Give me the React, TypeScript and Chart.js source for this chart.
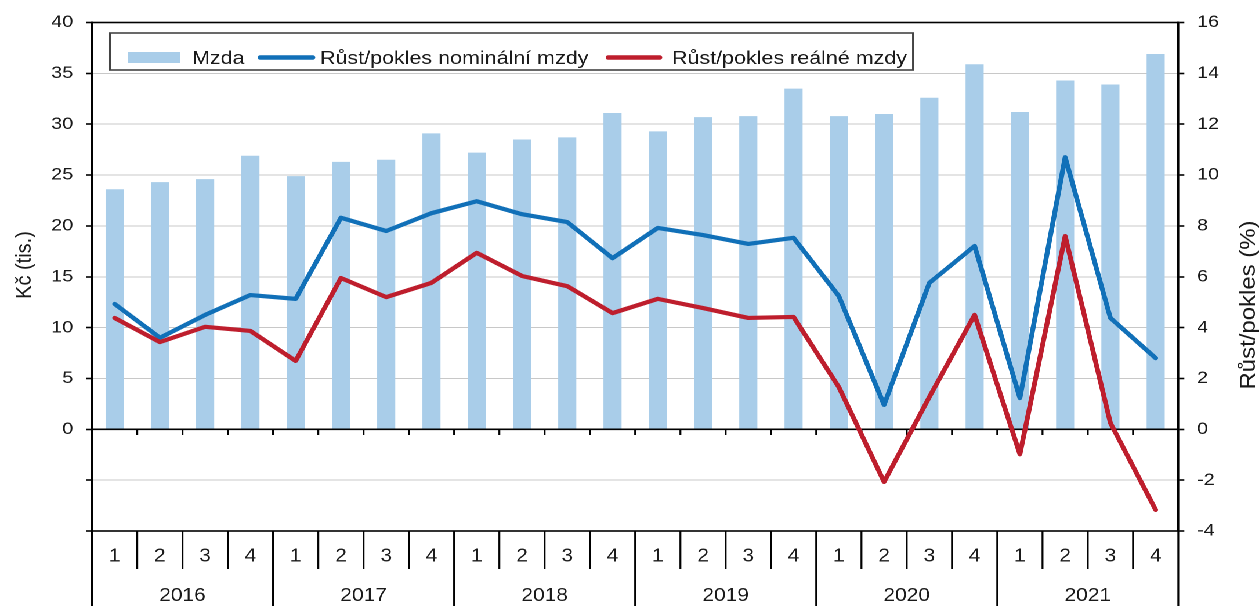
import React, { useEffect, useRef } from 'react';
import { Chart, registerables } from 'chart.js';

Chart.register(...registerables);

// ---------- data ----------
const YEARS = ['2016', '2017', '2018', '2019', '2020', '2021'];
const QUARTERS = ['1', '2', '3', '4'];
const CATEGORIES = YEARS.flatMap((y) => QUARTERS.map((q) => `${q}/${y}`));

const WAGE = [23.6, 24.3, 24.6, 26.9, 24.9, 26.3, 26.5, 29.1, 27.2, 28.5, 28.7, 31.1, 29.3, 30.7, 30.8, 33.5, 30.8, 31.0, 32.6, 35.9, 31.2, 34.3, 33.9, 36.9];
const NOMINAL = [4.93, 3.6, 4.5, 5.28, 5.13, 8.32, 7.8, 8.5, 8.97, 8.46, 8.15, 6.73, 7.92, 7.64, 7.29, 7.53, 5.24, 0.96, 5.76, 7.21, 1.23, 10.7, 4.38, 2.8];
const REAL = [4.38, 3.43, 4.03, 3.87, 2.69, 5.95, 5.2, 5.76, 6.94, 6.03, 5.63, 4.57, 5.13, 4.77, 4.38, 4.42, 1.66, -2.07, 1.27, 4.5, -0.98, 7.6, 0.25, -3.17];

const SERIES_LABELS = ['Mzda', 'Růst/pokles nominální mzdy', 'Růst/pokles reálné mzdy'];
const LEFT_TITLE = 'Kč (tis.)';
const RIGHT_TITLE = 'Růst/pokles (%)';
const LEFT_MIN = -10, LEFT_MAX = 40, LEFT_STEP = 5;
const RIGHT_MIN = -4, RIGHT_MAX = 16, RIGHT_STEP = 2;

// ---------- styling ----------
const W = 1085;
const H = 606;
const S = 1259 / W; // horizontal stretch of the original artwork
const sx = (px: number) => px / S;
const FONT = "'Liberation Sans', Arial, sans-serif";
const TEXT = '#1a1a1a';
const BAR = '#a9cde9';
const BLUE = '#1170b8';
const RED = '#be1e2d';

const decor = {
  id: 'decor',
  afterDatasetDraw(chart: any, args: any) {
    if (args.index !== 0) return;
    const { ctx, chartArea: a, scales } = chart;
    const y0 = scales.y.getPixelForValue(0);
    ctx.save();
    ctx.strokeStyle = '#000';
    ctx.lineWidth = 1.6;
    ctx.beginPath();
    ctx.moveTo(a.left, y0);
    ctx.lineTo(a.right, y0);
    const xs = scales.x;
    for (let i = 1; i < CATEGORIES.length; i++) {
      const bx = (xs.getPixelForValue(i - 1) + xs.getPixelForValue(i)) / 2;
      ctx.moveTo(bx, y0);
      ctx.lineTo(bx, y0 + 5.7);
    }
    ctx.stroke();
    ctx.restore();
  },
  afterDraw(chart: any) {
    const { ctx, chartArea: a, scales } = chart;
    const xs = scales.x;
    ctx.save();
    // frame
    ctx.strokeStyle = '#000';
    ctx.lineWidth = 1.6;
    ctx.strokeRect(a.left, a.top, a.right - a.left, a.bottom - a.top);
    // category table
    ctx.beginPath();
    ctx.moveTo(a.left, a.bottom);
    ctx.lineTo(a.left, H);
    ctx.moveTo(a.right, a.bottom);
    ctx.lineTo(a.right, H);
    const n = CATEGORIES.length;
    for (let i = 1; i < n; i++) {
      const bx = (xs.getPixelForValue(i - 1) + xs.getPixelForValue(i)) / 2;
      const isYear = i % QUARTERS.length === 0;
      ctx.moveTo(bx, a.bottom);
      ctx.lineTo(bx, isYear ? H : 569);
    }
    ctx.stroke();
    ctx.fillStyle = TEXT;
    ctx.font = `18px ${FONT}`;
    ctx.textAlign = 'center';
    ctx.textBaseline = 'alphabetic';
    for (let i = 0; i < n; i++) {
      ctx.fillText(QUARTERS[i % QUARTERS.length], xs.getPixelForValue(i), 561.5);
    }
    YEARS.forEach((y, yi) => {
      const first = yi * QUARTERS.length;
      const last = first + QUARTERS.length - 1;
      const cx = (xs.getPixelForValue(first) + xs.getPixelForValue(last)) / 2;
      ctx.fillText(y, cx, 601);
    });

    // legend
    const ds = chart.data.datasets;
    ctx.fillStyle = '#fff';
    ctx.fillRect(sx(110), 33, sx(913) - sx(110), 37);
    ctx.strokeStyle = '#444';
    ctx.lineWidth = 1.6;
    ctx.strokeRect(sx(110), 33, sx(913) - sx(110), 37);
    ctx.font = `18.5px ${FONT}`;
    ctx.textAlign = 'left';
    ctx.fillStyle = ds[0].backgroundColor;
    ctx.fillRect(sx(128), 52, sx(180) - sx(128), 11);
    ctx.fillStyle = TEXT;
    ctx.fillText(ds[0].label, sx(192), 64);
    const lineItem = (d: any, x1: number, x2: number, tx: number) => {
      ctx.strokeStyle = d.borderColor;
      ctx.lineWidth = 4.5;
      ctx.lineCap = 'round';
      ctx.beginPath();
      ctx.moveTo(sx(x1) + 2, 57.5);
      ctx.lineTo(sx(x2) - 2, 57.5);
      ctx.stroke();
      ctx.fillStyle = TEXT;
      ctx.fillText(d.label, sx(tx), 64);
    };
    lineItem(ds[1], 258, 315, 320);
    lineItem(ds[2], 606, 662, 672);

    // axis titles
    const vTitle = (t: string, cx: number, cy: number, k: number) => {
      ctx.save();
      ctx.translate(cx, cy);
      ctx.rotate(-Math.PI / 2);
      ctx.scale(k, 1);
      ctx.font = `18px ${FONT}`;
      ctx.fillStyle = TEXT;
      ctx.textAlign = 'center';
      ctx.textBaseline = 'middle';
      ctx.fillText(t, 0, 0);
      ctx.restore();
    };
    vTitle(LEFT_TITLE, sx(25), 265, 1.11);
    vTitle(RIGHT_TITLE, sx(1249), 305, 1.33);
    ctx.restore();
  },
};

export default function App() {
  const ref = useRef<HTMLCanvasElement | null>(null);
  useEffect(() => {
    if (!ref.current) return;
    const tickFont = { family: FONT, size: 17 };
    const chart = new Chart(ref.current, {
      type: 'bar',
      data: {
        labels: CATEGORIES,
        datasets: [
          {
            type: 'bar',
            label: SERIES_LABELS[0],
            data: WAGE,
            backgroundColor: BAR,
            borderWidth: 0,
            barPercentage: 0.4,
            categoryPercentage: 1,
            yAxisID: 'y',
            order: 2,
          },
          {
            type: 'line',
            label: SERIES_LABELS[1],
            data: NOMINAL,
            borderColor: BLUE,
            backgroundColor: BLUE,
            borderWidth: 4.2,
            pointRadius: 0,
            tension: 0,
            borderJoinStyle: 'round',
            borderCapStyle: 'round',
            yAxisID: 'y1',
            order: 1,
          },
          {
            type: 'line',
            label: SERIES_LABELS[2],
            data: REAL,
            borderColor: RED,
            backgroundColor: RED,
            borderWidth: 4.2,
            pointRadius: 0,
            tension: 0,
            borderJoinStyle: 'round',
            borderCapStyle: 'round',
            yAxisID: 'y1',
            order: 0,
          },
        ] as any,
      },
      options: {
        animation: false,
        responsive: false,
        devicePixelRatio: 2,
        layout: { padding: { top: 22.5, bottom: 0, left: 0, right: 0 } },
        plugins: {
          legend: { display: false },
          tooltip: { enabled: false },
          title: { display: false },
        },
        scales: {
          x: {
            type: 'category',
            offset: true,
            grid: { display: false, drawTicks: false },
            border: { display: false },
            ticks: { display: false },
            afterFit: (s: any) => {
              s.height = H - 531;
            },
          },
          y: {
            position: 'left',
            min: LEFT_MIN,
            max: LEFT_MAX,
            ticks: {
              stepSize: LEFT_STEP,
              padding: 11,
              color: TEXT,
              font: tickFont,
              callback: (v: any) => (Number(v) < 0 ? '' : String(v)),
            },
            grid: {
              color: (c: any) => {
                const v = c.tick ? c.tick.value : null;
                return v === 0 || v === LEFT_MAX || v === LEFT_MIN ? '#000' : '#c8c8c8';
              },
              lineWidth: 1,
              tickLength: 5.2,
              tickColor: '#000',
              tickWidth: 1.6,
            },
            border: { display: true, color: '#000', width: 1.6 },
            afterFit: (s: any) => {
              s.width = sx(92);
            },
          },
          y1: {
            position: 'right',
            min: RIGHT_MIN,
            max: RIGHT_MAX,
            ticks: { stepSize: RIGHT_STEP, padding: 11, color: TEXT, font: tickFont },
            grid: { drawOnChartArea: false, tickLength: 5.2, tickColor: '#000', tickWidth: 1.6 },
            border: { display: true, color: '#000', width: 1.6 },
            afterFit: (s: any) => {
              s.width = W - sx(1178.3);
            },
          },
        },
      } as any,
      plugins: [decor],
    });
    return () => chart.destroy();
  }, []);

  return (
    <div
      style={{
        position: 'fixed',
        left: 0,
        top: 0,
        width: W,
        height: H,
        transform: `scaleX(${S})`,
        transformOrigin: '0 0',
        background: '#fff',
      }}
    >
      <canvas ref={ref} width={W} height={H} style={{ display: 'block', width: W, height: H }} />
    </div>
  );
}
